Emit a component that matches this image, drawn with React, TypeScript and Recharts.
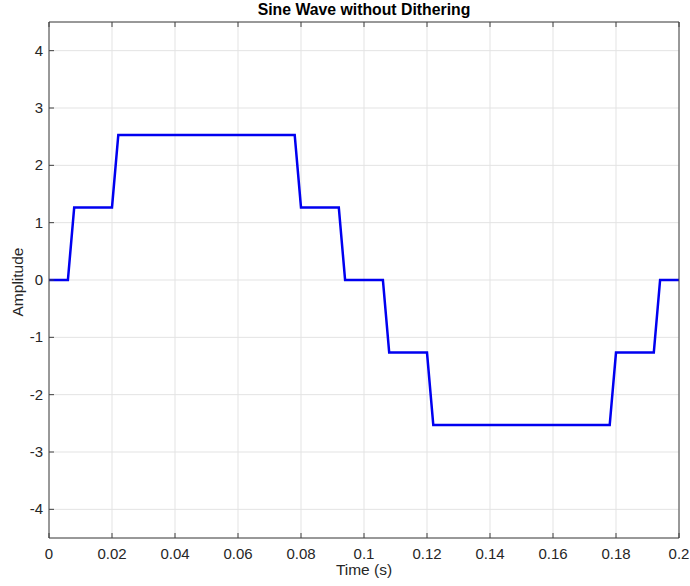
import { CartesianGrid, Label, Line, LineChart, XAxis, YAxis } from 'recharts';

// sample instants where the quantised signal changes (s)
const TIME = [
  0, 0.006, 0.008, 0.02, 0.022, 0.078, 0.08, 0.092, 0.094, 0.106, 0.108, 0.12, 0.122, 0.178, 0.18,
  0.192, 0.194, 0.2,
];
const AMPLITUDE = [
  0, 0, 1.265, 1.265, 2.53, 2.53, 1.265, 1.265, 0, 0, -1.265, -1.265, -2.53, -2.53, -1.265, -1.265,
  0, 0,
];

const X_TICKS = [0, 0.02, 0.04, 0.06, 0.08, 0.1, 0.12, 0.14, 0.16, 0.18, 0.2];
const X_TICK_LABELS = ['0', '0.02', '0.04', '0.06', '0.08', '0.1', '0.12', '0.14', '0.16', '0.18', '0.2'];
const Y_TICKS = [-4, -3, -2, -1, 0, 1, 2, 3, 4];

const AXIS_COLOR = '#262626';
const FRAME_COLOR = '#404040';
const FONT = 'Helvetica, Arial, "Liberation Sans", sans-serif';

const data = TIME.map((t, i) => ({ t, amp: AMPLITUDE[i] }));

function BottomTick({ x, y, payload }: any) {
  const i = X_TICKS.indexOf(payload.value);
  return (
    <g>
      <line x1={x} x2={x} y1={y} y2={y - 5} stroke={FRAME_COLOR} />
      <text x={x} y={y + 21} textAnchor="middle" fill={AXIS_COLOR} fontSize={15} fontFamily={FONT}>
        {i >= 0 ? X_TICK_LABELS[i] : payload.value}
      </text>
    </g>
  );
}

function TopTick({ x, y }: any) {
  return <line x1={x} x2={x} y1={y} y2={y + 5} stroke={FRAME_COLOR} />;
}

function LeftTick({ x, y, payload }: any) {
  return (
    <g>
      <line x1={x} x2={x + 5} y1={y} y2={y} stroke={FRAME_COLOR} />
      <text x={x - 6} y={y + 5} textAnchor="end" fill={AXIS_COLOR} fontSize={15} fontFamily={FONT}>
        {payload.value}
      </text>
    </g>
  );
}

function RightTick({ x, y }: any) {
  return <line x1={x} x2={x - 5} y1={y} y2={y} stroke={FRAME_COLOR} />;
}

export default function App() {
  return (
    <div style={{ position: 'absolute', left: 0, top: 0, background: '#fff' }}>
      <LineChart width={690} height={586} data={data} margin={{ top: 21, right: 10, bottom: 8, left: 9 }}>
        <CartesianGrid stroke="#e3e3e3" />
        <XAxis
          dataKey="t"
          type="number"
          domain={[0, 0.2]}
          ticks={X_TICKS}
          allowDataOverflow
          height={40}
          tickSize={0}
          tickMargin={0}
          tickLine={false}
          tick={<BottomTick />}
          axisLine={{ stroke: FRAME_COLOR }}
        >
          <Label
            content={({ viewBox }: any) => (
              <text
                x={viewBox.x + viewBox.width / 2}
                y={viewBox.y + 37}
                textAnchor="middle"
                fill={AXIS_COLOR}
                fontSize={15.5}
                fontFamily={FONT}
              >
                Time (s)
              </text>
            )}
          />
        </XAxis>
        <XAxis
          xAxisId="top"
          orientation="top"
          dataKey="t"
          type="number"
          domain={[0, 0.2]}
          ticks={X_TICKS}
          height={1}
          tickSize={0}
          tickMargin={0}
          tickLine={false}
          tick={<TopTick />}
          axisLine={{ stroke: FRAME_COLOR }}
        >
          <Label
            content={({ viewBox }: any) => (
              <text
                x={viewBox.x + viewBox.width / 2}
                y={viewBox.y - 6}
                textAnchor="middle"
                fill="#000"
                fontSize={15.8}
                fontWeight="bold"
                fontFamily={FONT}
              >
                Sine Wave without Dithering
              </text>
            )}
          />
        </XAxis>
        <YAxis
          type="number"
          domain={[-4.5, 4.5]}
          ticks={Y_TICKS}
          width={40}
          tickSize={0}
          tickMargin={0}
          tickLine={false}
          tick={<LeftTick />}
          axisLine={{ stroke: FRAME_COLOR }}
        >
          <Label
            content={({ viewBox }: any) => {
              const cx = viewBox.x + 14;
              const cy = viewBox.y + viewBox.height / 2 + 2;
              return (
                <text
                  x={cx}
                  y={cy}
                  textAnchor="middle"
                  transform={`rotate(-90 ${cx} ${cy})`}
                  fill={AXIS_COLOR}
                  fontSize={15.5}
                  fontFamily={FONT}
                >
                  Amplitude
                </text>
              );
            }}
          />
        </YAxis>
        <YAxis
          yAxisId="right"
          orientation="right"
          type="number"
          domain={[-4.5, 4.5]}
          ticks={Y_TICKS}
          width={1}
          tickSize={0}
          tickMargin={0}
          tickLine={false}
          tick={<RightTick />}
          axisLine={{ stroke: FRAME_COLOR }}
        />
        <Line
          type="linear"
          dataKey="amp"
          stroke="#0000f0"
          strokeWidth={2.5}
          dot={false}
          isAnimationActive={false}
        />
      </LineChart>
    </div>
  );
}
